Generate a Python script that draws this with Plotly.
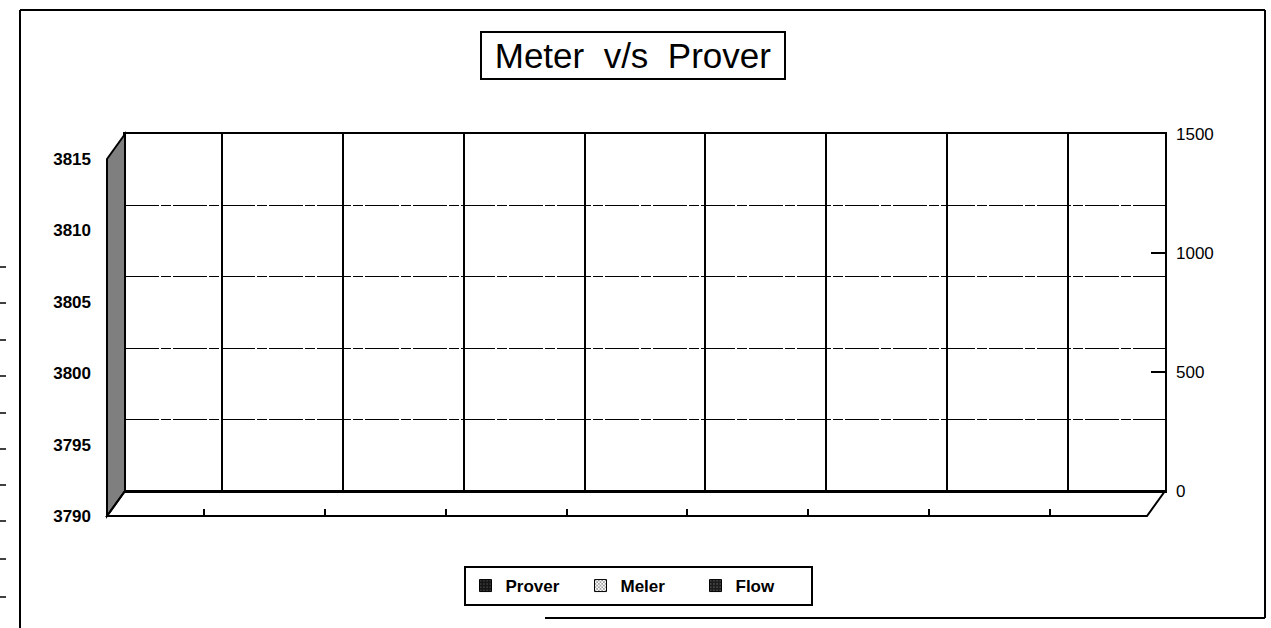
import plotly.graph_objects as go

W, H = 1271, 628


def px(x):
    return x / W


def py(y):
    return 1 - y / H


# ---------------- data ----------------
categories = ["1", "2", "3", "4", "5", "6", "7", "8"]
prover = [None, None, None, None, None, None, None, None]
meter = [None, None, None, None, None, None, None, None]
flow = [None, None, None, None, None, None, None, None]
left_ticks = [3790, 3795, 3800, 3805, 3810, 3815]
right_ticks = [0, 500, 1000, 1500]
series_names = ["Prover", "Meler", "Flow"]
title_text = "Meter\u00a0\u00a0v/s\u00a0\u00a0Prover"

# ---------------- geometry (pixels) ----------------
BX0, BX1, BY0, BY1 = 125, 1165, 134, 491     # back wall
DX, DY = -18, 25                              # depth offset to the front plane
FX0, FX1, FY0, FY1 = BX0 + DX, BX1 + DX, BY0 + DY, BY1 + DY
FONT = "Arial, Liberation Sans, sans-serif"
XR = [-0.8, len(categories) - 0.2]

fig = go.Figure()
fig.add_trace(go.Bar(
    x=categories, y=prover, name=series_names[0], xaxis="x", yaxis="y",
    marker=dict(color="#151515", line=dict(color="black", width=1),
                pattern=dict(shape=".", fgcolor="#9a9a9a", size=4, solidity=0.15)),
))
fig.add_trace(go.Bar(
    x=categories, y=meter, name=series_names[1], xaxis="x2", yaxis="y3",
    marker=dict(color="white", line=dict(color="black", width=1),
                pattern=dict(shape="x", fgcolor="black", bgcolor="white", size=3, solidity=0.45)),
))
fig.add_trace(go.Bar(
    x=categories, y=flow, name=series_names[2], xaxis="x", yaxis="y2",
    marker=dict(color="#1c1c1c", line=dict(color="black", width=1),
                pattern=dict(shape=".", fgcolor="#8a8a8a", size=4, solidity=0.2)),
))

fig.update_layout(
    width=W, height=H, autosize=False,
    margin=dict(l=0, r=0, t=0, b=0, pad=0, autoexpand=False),
    paper_bgcolor="white", plot_bgcolor="rgba(0,0,0,0)",
    font=dict(family=FONT, color="black", size=16),
    barmode="group",
    showlegend=True,
    xaxis=dict(
        domain=[px(BX0), px(BX1)], anchor="y", type="category",
        categoryorder="array", categoryarray=categories, range=XR,
        showgrid=True, gridcolor="black", gridwidth=1.5,
        showline=True, linecolor="black", linewidth=2, mirror=True,
        showticklabels=False, ticks="", zeroline=False, automargin=False,
    ),
    yaxis=dict(
        domain=[py(BY1), py(BY0)], anchor="x", range=[left_ticks[0], left_ticks[-1]],
        tickvals=left_ticks, showgrid=True, gridcolor="black", gridwidth=1.3,
        griddash="34px,2px,10px,2px",
        showline=True, linecolor="black", linewidth=2, mirror=True,
        showticklabels=False, ticks="", zeroline=False, automargin=False,
    ),
    yaxis2=dict(
        overlaying="y", anchor="x", side="right",
        range=[right_ticks[0], right_ticks[-1]], tickvals=right_ticks,
        showgrid=False, zeroline=False, showline=False,
        ticks="inside", ticklen=14, tickwidth=1.5, tickcolor="black",
        tickfont=dict(size=17, family=FONT, color="black"),
        ticklabelstandoff=10, automargin=False,
    ),
    xaxis2=dict(
        domain=[px(FX0), px(FX1)], anchor="y3", type="category",
        categoryorder="array", categoryarray=categories, range=XR,
        showticklabels=False, showgrid=False, zeroline=False, showline=False,
        ticks="inside", ticklen=7, tickwidth=1.5, tickcolor="black", automargin=False,
    ),
    yaxis3=dict(
        domain=[py(FY1), py(FY0)], anchor="x2", side="left",
        range=[left_ticks[0], left_ticks[-1]], tickvals=left_ticks,
        showgrid=False, zeroline=False, showline=False, ticks="",
        tickfont=dict(size=17, family=FONT, color="black", weight="bold"),
        ticklabelstandoff=15, automargin=False,
    ),
    legend=dict(
        orientation="h", x=px(638), xanchor="center", y=py(586), yanchor="middle",
        bordercolor="black", borderwidth=2, bgcolor="white",
        font=dict(size=17, family=FONT, color="black", weight="bold"),
        entrywidth=70, entrywidthmode="pixels",
        itemclick=False, itemdoubleclick=False,
    ),
)

# title in a framed box
fig.add_annotation(
    text="\u00a0" + title_text + "\u00a0", x=px(633), y=py(56), xref="paper", yref="paper",
    xanchor="center", yanchor="middle", showarrow=False,
    font=dict(size=35, family=FONT, color="black"),
    bordercolor="black", borderwidth=2, borderpad=3, bgcolor="white",
)

shapes = []
# left wall (shaded) and floor of the 3-D frame
shapes.append(dict(
    type="path", xref="paper", yref="paper", layer="above",
    path=f"M {px(FX0)} {py(FY0)} L {px(BX0)} {py(BY0)} L {px(BX0)} {py(BY1)} L {px(FX0)} {py(FY1)} Z",
    fillcolor="#7f7f7f", line=dict(color="black", width=2),
))
shapes.append(dict(
    type="path", xref="paper", yref="paper", layer="above",
    path=f"M {px(FX0)} {py(FY1)} L {px(BX0)} {py(BY1)} L {px(BX1)} {py(BY1)} L {px(FX1)} {py(FY1)} Z",
    fillcolor="rgba(0,0,0,0)", line=dict(color="black", width=2),
))
# outer page frame
frame = [(20, 10, 1265, 10), (20, 10, 20, 628), (1265, 10, 1265, 618), (545, 618, 1265, 618)]
for x0, y0, x1, y1 in frame:
    shapes.append(dict(type="line", xref="paper", yref="paper",
                       x0=px(x0), y0=py(y0), x1=px(x1), y1=py(y1),
                       line=dict(color="black", width=2)))
# stubs of the neighbouring page at the left edge
for y in [267, 303, 340, 376, 413, 449, 485, 521, 559, 597]:
    shapes.append(dict(type="line", xref="paper", yref="paper",
                       x0=px(0), y0=py(y), x1=px(6), y1=py(y),
                       line=dict(color="black", width=1.5)))
fig.update_layout(shapes=shapes)

fig.write_html(
    "out.html",
    config={"displayModeBar": False},
    post_script="document.body.style.margin='0';document.body.style.padding='0';"
                "document.body.style.overflow='hidden';",
)
